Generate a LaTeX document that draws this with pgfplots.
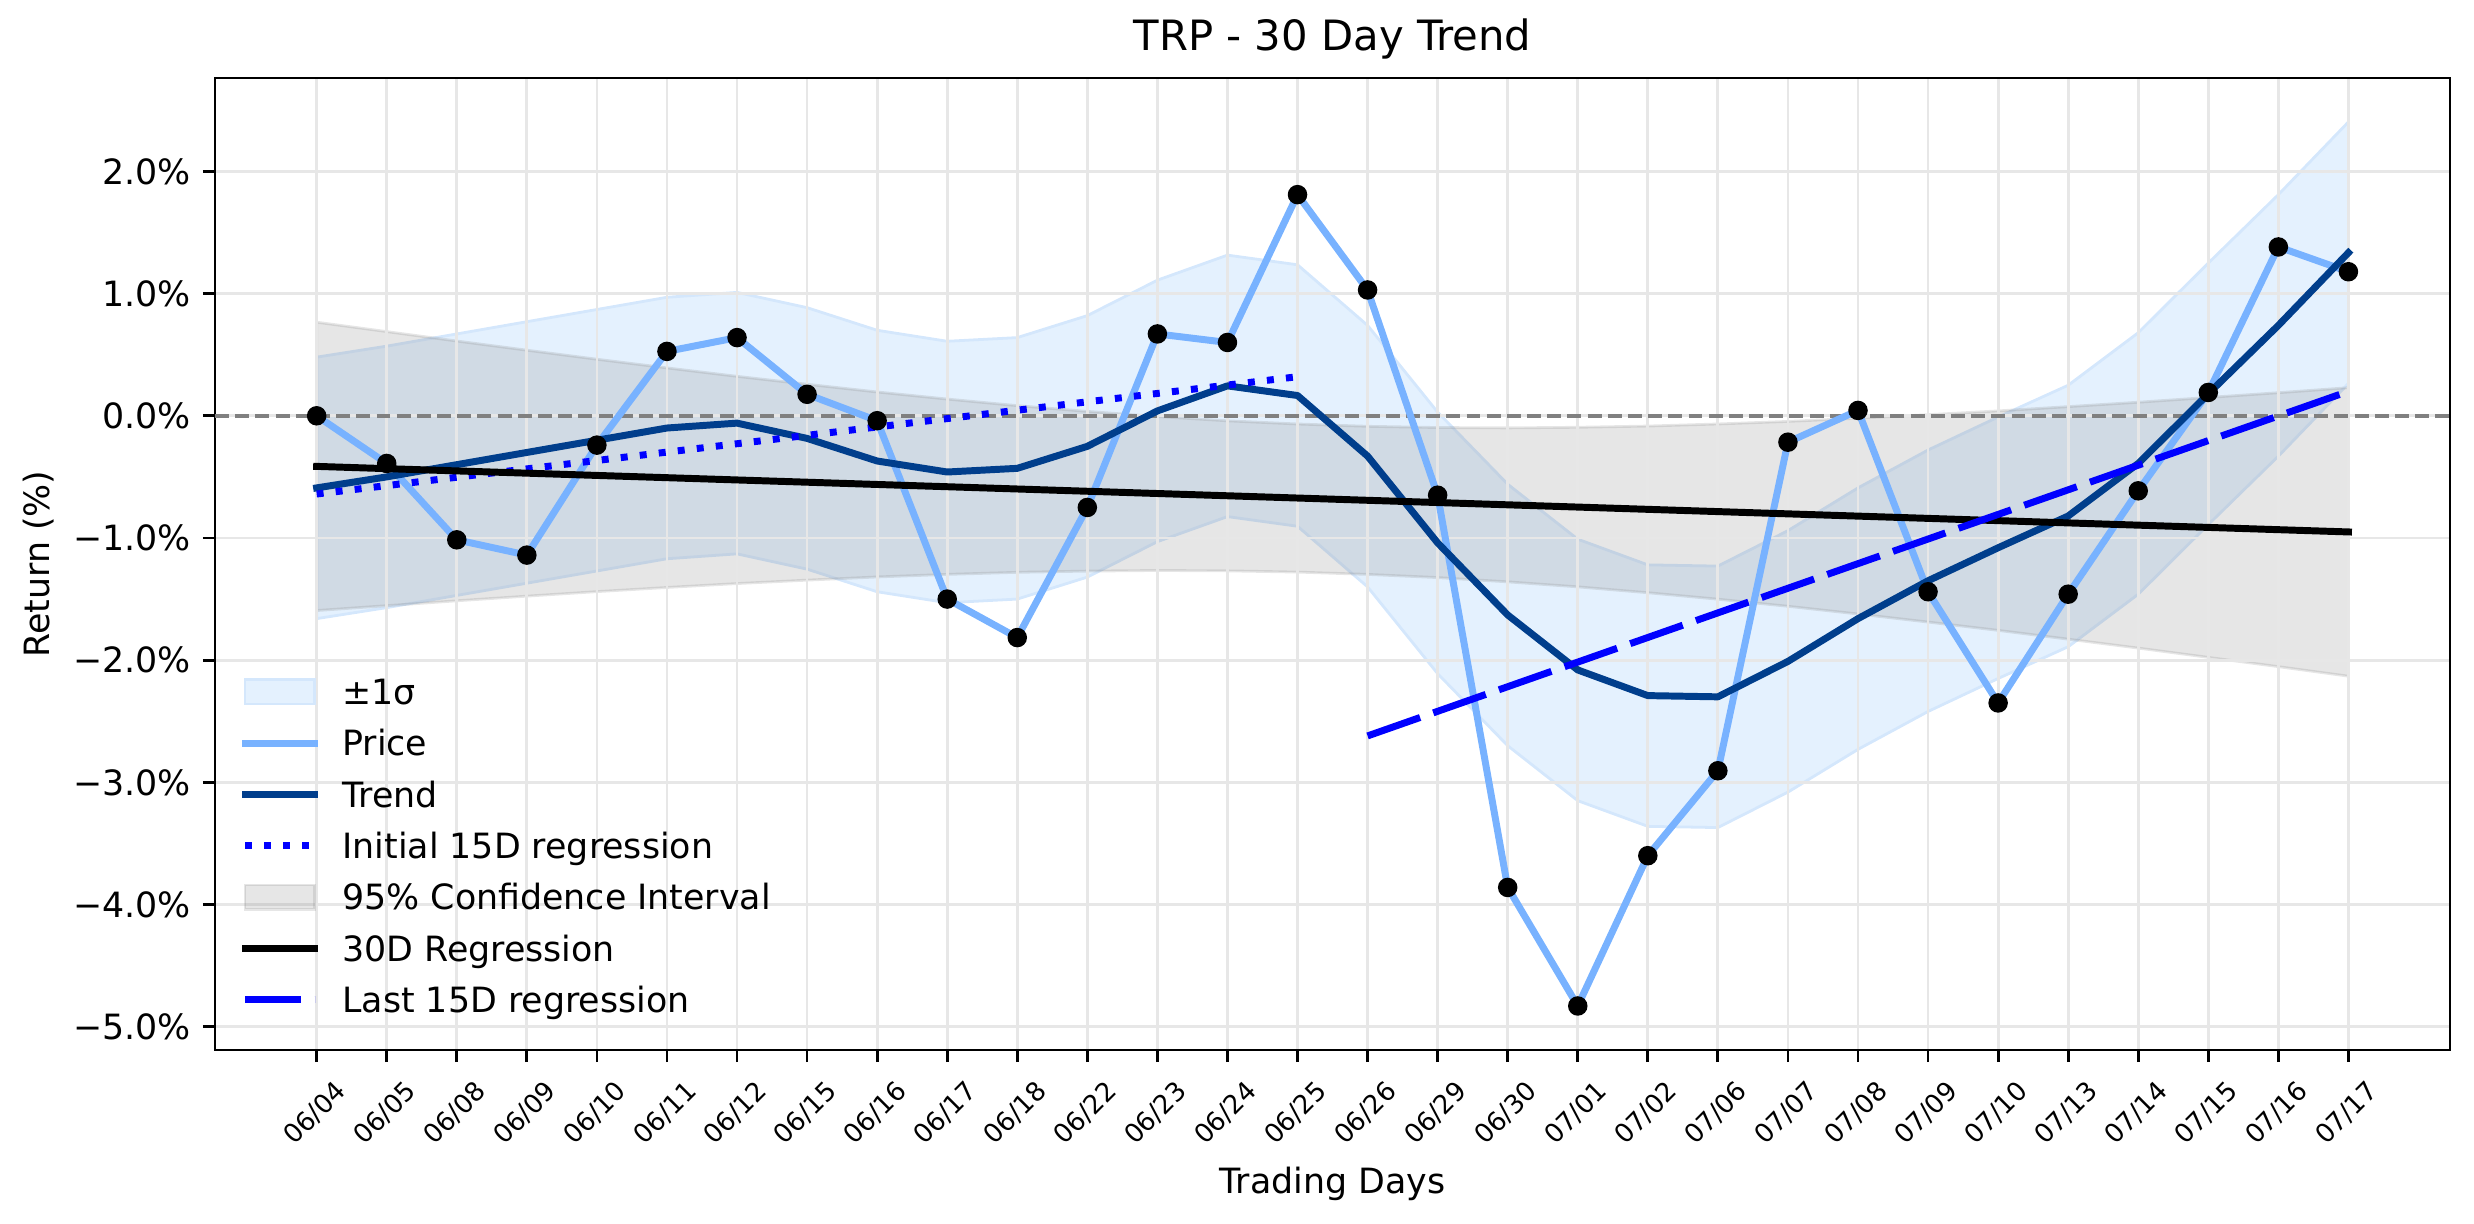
\documentclass[border=0pt]{standalone}
\usepackage{fontspec}
\setmainfont{DejaVu Sans}
\usepackage{pgfplots}
\pgfplotsset{compat=1.18}

\definecolor{pricec}{RGB}{120,178,255}
\definecolor{trendc}{RGB}{0,62,140}
\definecolor{bandc}{RGB}{228,241,254}
\definecolor{bandedge}{RGB}{212,231,252}
\definecolor{gridc}{RGB}{231,231,231}

\pgfplotsset{
  linelegend/.style={legend image code/.code={%
      \draw[##1] (0pt,0pt) -- (20pt,0pt);
      \path[draw=none, fill=none] (-1pt,-3.5pt) rectangle (21pt,3.5pt);}},
  patchlegend/.style={legend image code/.code={%
      \draw[##1] (0pt,-3.5pt) rectangle (20pt,3.5pt);
      \path[draw=none, fill=none] (-1pt,-3.5pt) rectangle (21pt,3.5pt);}},
}

\begin{document}
\begin{tikzpicture}
\begin{axis}[
  set layers,
  at={(0,0)}, anchor=south west,
  scale only axis, width=642.2pt, height=279.3pt,
  xmin=-1.45, xmax=30.45, ymin=-5.19, ymax=2.765,
  xtick={0,...,29},
  xticklabels={06/04,06/05,06/08,06/09,06/10,06/11,06/12,06/15,06/16,06/17,06/18,06/22,06/23,06/24,06/25,06/26,06/29,06/30,07/01,07/02,07/06,07/07,07/08,07/09,07/10,07/13,07/14,07/15,07/16,07/17},
  ytick={-5,-4,-3,-2,-1,0,1,2},
  yticklabels={−5.0\%,−4.0\%,−3.0\%,−2.0\%,−1.0\%,0.0\%,1.0\%,2.0\%},
  tick pos=left,
  tick align=outside, major tick length=3.5pt,
  tick style={black, line width=0.8pt},
  axis line style={black, line width=0.8pt},
  xmajorgrids, ymajorgrids,
  grid style={gridc, line width=0.8pt},
  yticklabel style={font=\fontsize{10}{12}\selectfont},
  xticklabel style={font=\fontsize{7.5}{9}\selectfont, inner sep=0pt,
    xshift=-0.5pt, yshift=-14.7pt, rotate=45, anchor=center},
  title={TRP - 30 Day Trend},
  every axis title/.style={at={(axis description cs:0.5,1)}, anchor=base,
    yshift=8pt, inner sep=0pt, font=\fontsize{12}{14}\selectfont},
  xlabel={Trading Days},
  every axis x label/.style={at={(axis description cs:0.5,0)}, anchor=base,
    yshift=-41.1pt, inner sep=0pt, font=\fontsize{10}{12}\selectfont},
  ylabel={Return (\%)},
  every axis y label/.style={at={(axis description cs:-0.0788,0.5)}, anchor=center,
    rotate=90, inner sep=0pt, font=\fontsize{10}{12}\selectfont},
  legend cell align=left,
  legend style={draw=none, fill=none, at={(axis description cs:0,0)}, anchor=south west,
    xshift=7.6pt, yshift=10.4pt, inner sep=0pt, outer sep=0pt,
    row sep=6.75pt, column sep=7pt,
    nodes={inner sep=0pt, text height=7.6pt, text depth=0.4pt, font=\fontsize{10}{12}\selectfont}},
]

% +/- 1 sigma band around the trend
\addplot[forget plot, on layer=axis background, fill=bandc, draw=bandedge, line width=0.8pt]
  coordinates {
  (0,0.48)(1,0.57)(2,0.67)(3,0.77)(4,0.87)(5,0.97)(6,1.01)(7,0.885)(8,0.70)(9,0.61)
  (10,0.64)(11,0.82)(12,1.11)(13,1.315)(14,1.236)(15,0.74)(16,0.03)(17,-0.56)(18,-1.01)(19,-1.22)
  (20,-1.23)(21,-0.94)(22,-0.59)(23,-0.28)(24,-0.01)(25,0.25)(26,0.68)(27,1.25)(28,1.81)(29,2.405)
  (29,0.265)(28,-0.33)(27,-0.89)(26,-1.46)(25,-1.89)(24,-2.15)(23,-2.42)(22,-2.73)(21,-3.08)(20,-3.37)
  (19,-3.36)(18,-3.15)(17,-2.70)(16,-2.11)(15,-1.40)(14,-0.904)(13,-0.825)(12,-1.03)(11,-1.32)(10,-1.50)
  (9,-1.53)(8,-1.44)(7,-1.255)(6,-1.13)(5,-1.17)(4,-1.27)(3,-1.37)(2,-1.47)(1,-1.57)(0,-1.66)
  } -- cycle;

% 95% confidence interval of the 30-day regression
\addplot[forget plot, on layer=axis background, fill=gray, fill opacity=0.2,
  draw=gray, draw opacity=0.2, line width=0.8pt]
  coordinates {
  (0,0.766)(1,0.689)(2,0.612)(3,0.537)(4,0.463)(5,0.392)(6,0.323)(7,0.258)(8,0.195)(9,0.137)
  (10,0.083)(11,0.036)(12,-0.006)(13,-0.041)(14,-0.067)(15,-0.086)(16,-0.096)(17,-0.099)(18,-0.094)(19,-0.084)
  (20,-0.067)(21,-0.046)(22,-0.020)(23,0.009)(24,0.040)(25,0.075)(26,0.111)(27,0.150)(28,0.189)(29,0.230)
  (29,-2.131)(28,-2.053)(27,-1.977)(26,-1.901)(25,-1.828)(24,-1.756)(23,-1.688)(22,-1.622)(21,-1.559)(20,-1.501)
  (19,-1.448)(18,-1.400)(17,-1.359)(16,-1.324)(15,-1.298)(14,-1.279)(13,-1.269)(12,-1.266)(11,-1.271)(10,-1.281)
  (9,-1.298)(8,-1.319)(7,-1.345)(6,-1.373)(5,-1.405)(4,-1.439)(3,-1.476)(2,-1.514)(1,-1.554)(0,-1.594)
  } -- cycle;

% zero reference line
\addplot[forget plot, gray, line width=1pt, dash pattern=on 4pt off 1.8pt]
  coordinates {(-1.45,0)(30.45,0)};

\addlegendimage{patchlegend, fill=bandc, draw=bandedge, line width=0.8pt}
\addlegendentry{±1σ}

\addplot[linelegend, pricec, line width=2pt, line cap=rect, line join=round]
  coordinates {
  (0,0.00)(1,-0.39)(2,-1.015)(3,-1.14)(4,-0.24)(5,0.527)(6,0.64)(7,0.176)(8,-0.04)(9,-1.50)
  (10,-1.815)(11,-0.75)(12,0.67)(13,0.60)(14,1.81)(15,1.03)(16,-0.65)(17,-3.86)(18,-4.83)(19,-3.60)
  (20,-2.905)(21,-0.216)(22,0.044)(23,-1.44)(24,-2.35)(25,-1.46)(26,-0.614)(27,0.191)(28,1.382)(29,1.179)
  };
\addlegendentry{Price}

\addplot[linelegend, trendc, line width=2pt, line cap=rect, line join=round]
  coordinates {
  (0,-0.59)(1,-0.50)(2,-0.40)(3,-0.30)(4,-0.20)(5,-0.10)(6,-0.06)(7,-0.185)(8,-0.37)(9,-0.46)
  (10,-0.43)(11,-0.25)(12,0.04)(13,0.245)(14,0.166)(15,-0.33)(16,-1.04)(17,-1.63)(18,-2.08)(19,-2.29)
  (20,-2.30)(21,-2.01)(22,-1.66)(23,-1.35)(24,-1.08)(25,-0.82)(26,-0.39)(27,0.18)(28,0.74)(29,1.335)
  };
\addlegendentry{Trend}

\addplot[linelegend, blue, line width=2pt, dash pattern=on 2pt off 3.5pt]
  coordinates {(0,-0.64)(14,0.32)};
\addlegendentry{Initial 15D regression}

\addlegendimage{patchlegend, fill=gray, fill opacity=0.2, draw=gray, draw opacity=0.2, line width=0.8pt}
\addlegendentry{95\% Confidence Interval}

\addplot[linelegend, black, line width=2pt, line cap=rect]
  coordinates {(0,-0.414)(29,-0.9505)};
\addlegendentry{30D Regression}

\addplot[linelegend, blue, line width=2pt, dash pattern=on 16pt off 4pt]
  coordinates {(15,-2.62)(29,0.20)};
\addlegendentry{Last 15D regression}

% daily closes
\addplot[forget plot, only marks, mark=*, mark size=2.6pt, black]
  coordinates {
  (0,0.00)(1,-0.39)(2,-1.015)(3,-1.14)(4,-0.24)(5,0.527)(6,0.64)(7,0.176)(8,-0.04)(9,-1.50)
  (10,-1.815)(11,-0.75)(12,0.67)(13,0.60)(14,1.81)(15,1.03)(16,-0.65)(17,-3.86)(18,-4.83)(19,-3.60)
  (20,-2.905)(21,-0.216)(22,0.044)(23,-1.44)(24,-2.35)(25,-1.46)(26,-0.614)(27,0.191)(28,1.382)(29,1.179)
  };
\end{axis}
\pgfresetboundingbox
\path[use as bounding box] (-61.8pt,-50pt) rectangle (649.1pt,301.7pt);
\end{tikzpicture}
\end{document}
